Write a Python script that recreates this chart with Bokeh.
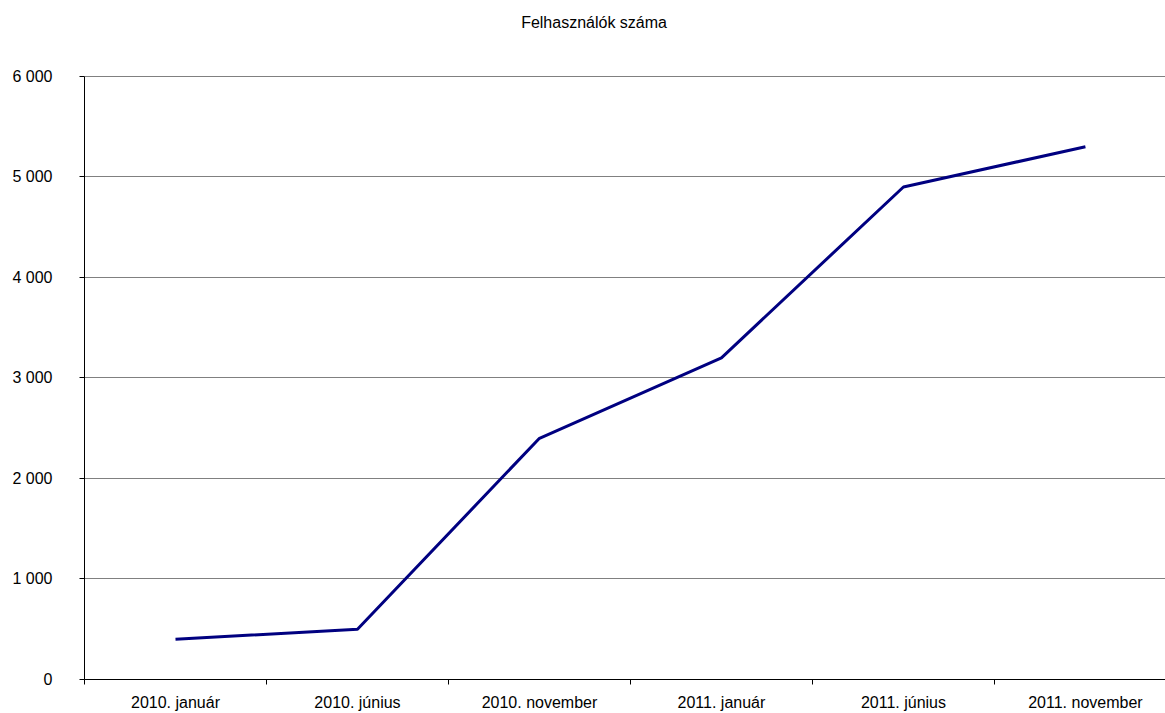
from bokeh.plotting import figure
from bokeh.models import FixedTicker, Range1d, ColumnDataSource, Label
from bokeh.embed import file_html
from bokeh.resources import INLINE

title_text = "Felhasználók száma"
categories = ["2010. január", "2010. június", "2010. november",
              "2011. január", "2011. június", "2011. november"]
users = [400, 500, 2400, 3200, 4900, 5300]
y_ticks = [0, 1000, 2000, 3000, 4000, 5000, 6000]
y_labels = ["0", "1 000", "2 000", "3 000", "4 000", "5 000", "6 000"]
y_max = 6000

FONT = "Liberation Sans"
xs = list(range(len(categories)))
src = ColumnDataSource(dict(x=xs, y=users))

# frame spans 10..680 px; the axis itself (0..6000) spans 76..680 px
frame_top, axis_top, frame_bottom = 10, 76, 680
view_max = y_max * (frame_bottom - frame_top) / (frame_bottom - axis_top)

p = figure(width=1165, height=713, output_backend="svg", toolbar_location=None,
           x_range=Range1d(-0.5, 5.44), y_range=Range1d(0, view_max),
           min_border_left=84, min_border_right=0, min_border_top=frame_top,
           min_border_bottom=33)
p.outline_line_color = None
p.background_fill_color = "white"
p.border_fill_color = "white"

title = Label(x=2.3, y=y_max, y_offset=54, text=title_text,
              text_font=FONT, text_font_size="16px", text_color="#000000",
              text_align="center", text_baseline="middle")
p.add_layout(title)

p.line("x", "y", source=src, line_color="#000080", line_width=3)

xa = p.xaxis[0]
xa.ticker = FixedTicker(ticks=xs, minor_ticks=[i - 0.5 for i in range(len(categories) + 1)])
xa.major_label_overrides = {i: c for i, c in enumerate(categories)}
xa.major_tick_line_color = None
xa.major_tick_out = 0
xa.major_tick_in = 0
xa.minor_tick_line_color = "#000000"
xa.minor_tick_out = 5
xa.minor_tick_in = 0
xa.axis_line_color = "#000000"
xa.major_label_standoff = 9
xa.major_label_text_font = FONT
xa.major_label_text_font_size = "16px"
xa.major_label_text_color = "#000000"

ya = p.yaxis[0]
ya.ticker = FixedTicker(ticks=y_ticks, minor_ticks=[])
ya.bounds = (0, y_max)
ya.major_label_overrides = {t: l for t, l in zip(y_ticks, y_labels)}
ya.major_tick_out = 5
ya.major_tick_in = 0
ya.major_tick_line_color = "#000000"
ya.axis_line_color = "#000000"
ya.major_label_standoff = 27
ya.major_label_text_font = FONT
ya.major_label_text_font_size = "16px"
ya.major_label_text_color = "#000000"

p.xgrid.grid_line_color = None
p.ygrid.grid_line_color = "#808080"
p.ygrid.grid_line_width = 1

open("out.html", "w").write(file_html(p, INLINE))
